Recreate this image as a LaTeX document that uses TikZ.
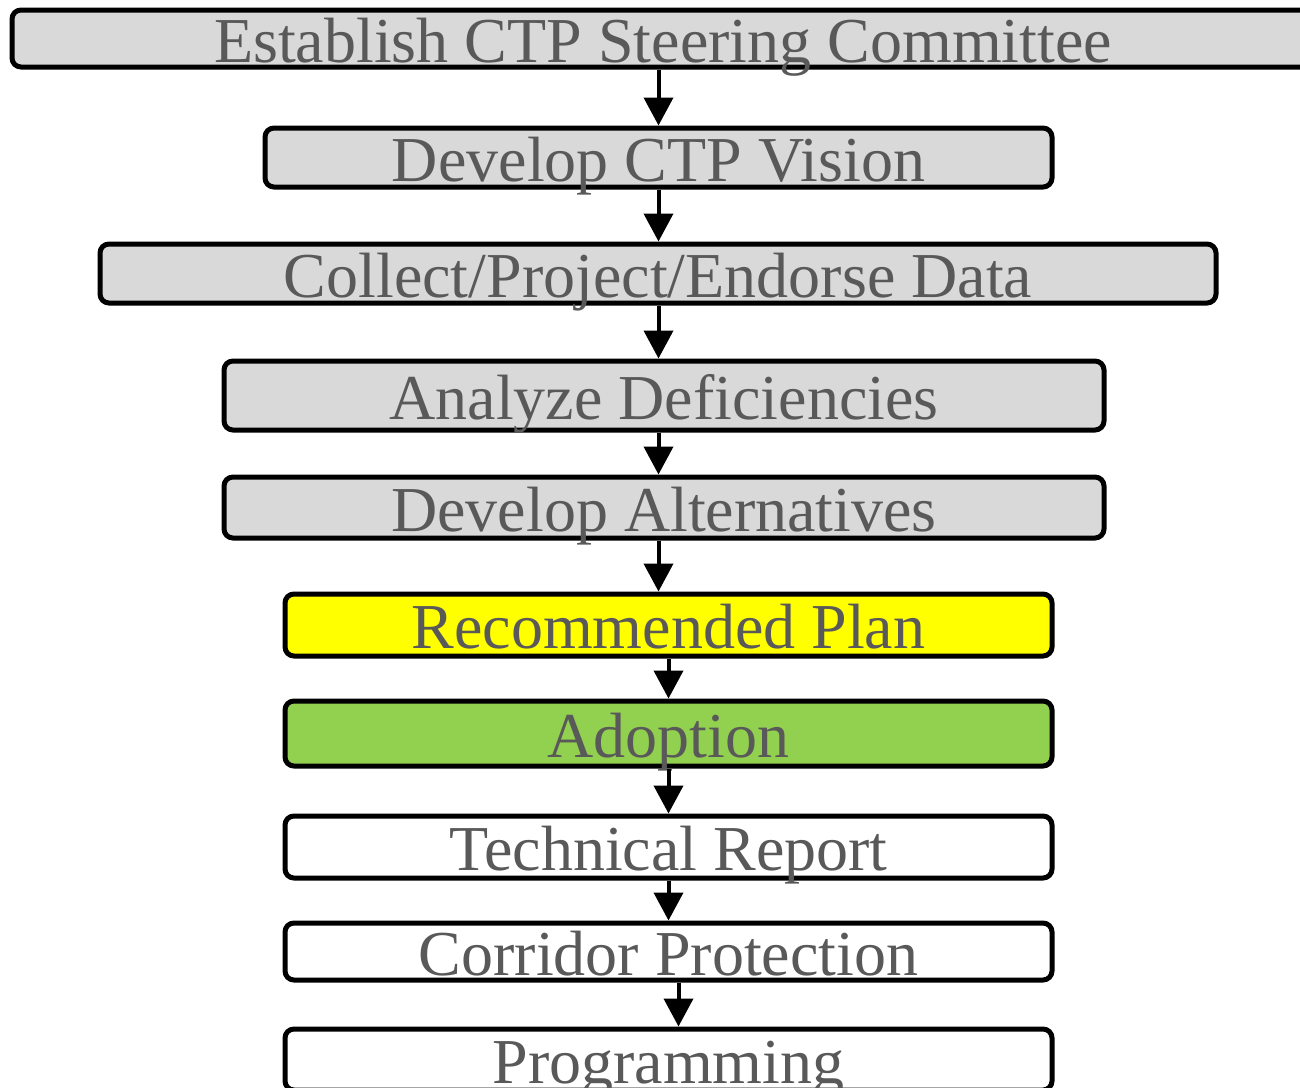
\documentclass[tikz,border=0pt]{standalone}
\usepackage{fontspec}
\setmainfont{Liberation Serif}
\usetikzlibrary{arrows.meta}

\definecolor{boxgray}{HTML}{D9D9D9}
\definecolor{txtgray}{HTML}{595959}
\definecolor{planyellow}{HTML}{FFFF00}
\definecolor{adoptgreen}{HTML}{92D050}

\tikzset{
  stage/.style={draw=black, line width=5pt, rounded corners=9pt, fill=boxgray,
    text=txtgray, font=\fontsize{64}{70}\selectfont, inner sep=0pt,
    text height=50pt, text depth=3pt},
  flow/.style={line width=4pt, -{Triangle[width=29pt,length=28pt]}},
}

\begin{document}
\begin{tikzpicture}[x=1pt,y=-1pt]
        \useasboundingbox (0,0) rectangle (1300,1087);
        % steps
        \node[stage, minimum width=1302pt, minimum height=57pt] (s1) at (663,38.5) {Establish CTP Steering Committee};
        \node[stage, minimum width=787pt, minimum height=59pt] (s2) at (658.5,157.5) {Develop CTP Vision};
        \node[stage, minimum width=1116pt, minimum height=59pt] (s3) at (658,273.5) {Collect/Project/Endorse Data};
        \node[stage, minimum width=880pt, minimum height=69pt] (s4) at (664,395.5) {Analyze Deficiencies};
        \node[stage, minimum width=880pt, minimum height=61pt] (s5) at (664,507.5) {Develop Alternatives};
        \node[stage, fill=planyellow, minimum width=767pt, minimum height=62pt] (s6) at (668.5,625) {Recommended Plan};
        \node[stage, fill=adoptgreen, minimum width=767pt, minimum height=65pt] (s7) at (668.5,733.5) {Adoption};
        \node[stage, fill=white, minimum width=767pt, minimum height=62pt] (s8) at (668.5,847) {Technical Report};
        \node[stage, fill=white, minimum width=767pt, minimum height=57pt] (s9) at (668.5,951.5) {Corridor Protection};
        \node[stage, fill=white, minimum width=767pt, minimum height=61pt] (s10) at (668.5,1059.5) {Programming};
        % arrows
        \draw[flow] (s1.south -| s2.north) -- (s2.north);
        \draw[flow] (s2.south) -- (s3.north -| s2.south);
        \draw[flow] (s3.south -| s2.south) -- (s4.north -| s2.south);
        \draw[flow] (s4.south -| s2.south) -- (s5.north -| s2.south);
        \draw[flow] (s5.south -| s2.south) -- (s6.north -| s2.south);
        \draw[flow] (s6.south) -- (s7.north);
        \draw[flow] (s7.south) -- (s8.north);
        \draw[flow] (s8.south) -- (s9.north);
        \draw[flow] ([xshift=10pt]s9.south) -- ([xshift=10pt]s10.north);
\end{tikzpicture}
\end{document}
